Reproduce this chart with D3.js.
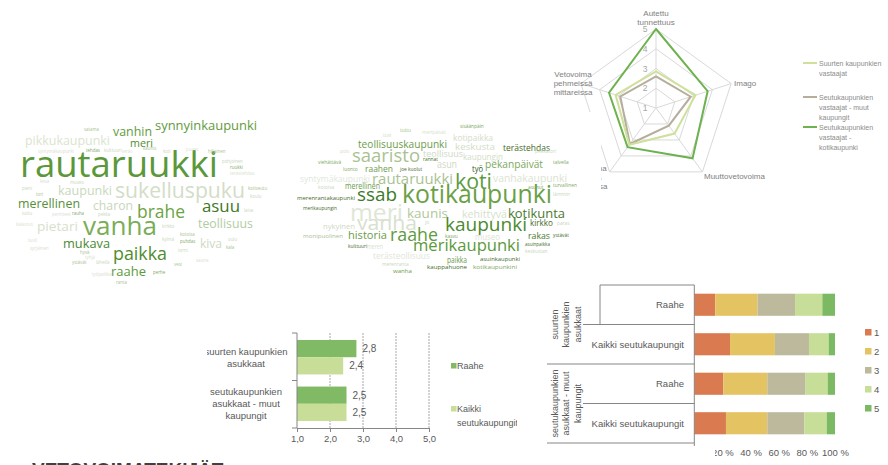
<!DOCTYPE html>
<html>
<head>
<meta charset="utf-8">
<script src="https://cdn.jsdelivr.net/npm/d3@7"></script>
<style>
body{margin:0;background:#fff;}
svg{display:block;font-family:"Liberation Sans",Arial,sans-serif;}
.cloud text{font-family:"Open Sans",sans-serif;}
</style>
</head>
<body>
<svg id="chart" width="888" height="465"></svg>
<script>
// radar
var radarAxes=["Autettu tunnettuus","Imago","Muuttovetovoima","Vetovoima kovissa mittareissa","Vetovoima pehmeissä mittareissa"];
var radarSeries=["Suurten kaupunkien vastaajat","Seutukaupunkien vastaajat - muut kaupungit","Seutukaupunkien vastaajat - kotikaupunki"];
var radarSuurten=[2.85,3.1,2.6,3.3,3.15];
var radarMuut=[2.6,2.85,2.1,3.25,2.9];
var radarKoti=[5.0,3.75,4.15,3.45,3.5];
var radarTicks=[1,2,3,4,5];

// small bar chart
var barGroups=["suurten kaupunkien asukkaat","seutukaupunkien asukkaat - muut kaupungit"];
var barSeries=["Raahe","Kaikki seutukaupungit"];
var barRaahe=[2.8,2.5];
var barKaikki=[2.4,2.5];
var barTicks=[1,2,3,4,5];

// stacked bar chart
var stackGroups=["suurten kaupunkien asukkaat","seutukaupunkien asukkaat - muut kaupungit"];
var stackCats=["Raahe","Kaikki seutukaupungit"];
var stackKeys=["1","2","3","4","5"];
var stackRaaheSuurten=[14.9,30.1,26.6,19.4,9.0];
var stackKaikkiSuurten=[25.4,31.9,24.2,14.0,4.5];
var stackRaaheMuut=[20.6,31.3,27.2,15.7,5.2];
var stackKaikkiMuut=[22.5,29.4,26.3,15.9,5.9];
var stackTicks=[0,20,40,60,80,100];

// word clouds: words and counts
var cloud1Words=["rautaruukki","sukelluspuku","vanha","paikka","brahe","asuu","raahe","teollisuus","pietari","mukava","kiva","synnyinkaupunki","vanhin","pikkukaupunki","meri","kaupunki","merellinen","charon",
 "satama","syntymäkaupunki","tehdas","kulttuuri","teräs","kaunis","koti","juuret","hiljainen","pohjoinen","ruukki","terästehdas","kotiseutu","koulu","pieni","tori","kesä","museo","tuttu","perinteet","rauha","pekka","laiva","kalastus","kirkko","kotoisa","tuuli","kylmä","puhdas","oulu","syrjäinen","kala","hyvä","torni","tyhjä","ystävät","lähellä","vesi","perhe","työpaikka","ranta","sauna"];
var cloud1Counts=[90,53,65,45,44,42,33,31,33,32,30,32,31,31,28,31,31,31,
 11,11,11,11,11,11,11,11,11,11,11,11,11,11,11,11,11,11,11,11,11,11,11,11,11,11,11,11,11,11,11,11,11,11,11,11,11,11,11,11,11,11];
var cloud2Words=["kotikaupunki","meri","koti","ssab","vanha","kaupunki","saaristo","raahe","merikaupunki","rautaruukki","kaunis","kotikunta","kehittyvä","historia","teollisuuskaupunki","pekanpäivät","vanhakaupunki","syntymäkaupunki","terästeollisuus","kotipaikka","keskusta","terästehdas","teollisuus","kaupungin","asun","työ","raahen","merellinen","nykyinen","kirkko","museo","rakas","meren","paikka","merenrantakaupunki","merikaupungin","monipuolinen","asuinpaikka","asuinkaupunki","kauppahuone","kotikaupunkini","wanha",
 "sisäänpäin","tuttu","meripäivät","tuvi","pois","pekkatori","rannat","viehättävä","talvella","luonto","joe kuolut","asunut","turvallinen","kotoisa","lämmin","paras","jo","kasvu","ystävät","kulttuuri","keskustan","merenranta"];
var cloud2Counts=[62,61,53,47,52,47,46,44,41,37,33,32,26,27,25,25,26,21,21,22,24,22,22,22,28,22,24,22,20,22,24,24,20,22,15,15,15,15,15,15,15,15,
 12,12,12,12,12,12,12,12,12,12,12,12,12,12,12,12,12,12,12,12,12,12];

// word cloud placement (x, baseline y, target width, colour)
var cloud1Layout=[[20,177,198,"#5a983a"],[115,198,130,"#d3ddc8"],[83,235,74,"#7aad58"],[113,260,54,"#4f8c2e"],[137,218,48,"#6ca444"],[202,212,38,"#3e7826"],[111,276,35,"#5b9a3a"],[198,228,55,"#b3cba3"],[37,231,41,"#d6e0cc"],[63,248,47,"#4a8a30"],[200,248,22,"#ced9c3"],[155,130,102,"#5f9b3c"],[113,136,39,"#5f9b3c"],[25,145,85,"#dbe4d0"],[130,147,23,"#4f8a2f"],[58,195,54,"#c9d8bc"],[18,208,62,"#55903a"],[93,210,40,"#c8d6bb"],
 [84,131,0,"#a9c290"],[38,153,0,"#d9e1d0"],[86,152,0,"#7fa868"],[104,152,0,"#c9d6bd"],[122,153,0,"#d9e1d0"],[143,150,0,"#a9c290"],[163,153,0,"#c9d6bd"],[186,151,0,"#d9e1d0"],[208,153,0,"#a9c290"],[222,163,0,"#c9d6bd"],[230,169,0,"#7fa868"],[230,175,0,"#d9e1d0"],[248,190,0,"#a9c290"],[250,198,0,"#c9d6bd"],[22,190,0,"#c9d6bd"],[36,196,0,"#a9c290"],[40,183,0,"#d9e1d0"],[70,184,0,"#c9d6bd"],[22,215,0,"#c9d6bd"],[52,216,0,"#d9e1d0"],[72,215,0,"#7fa868"],[98,216,0,"#c9d6bd"],[244,212,0,"#c9d6bd"],[16,226,0,"#d9e1d0"],[162,228,0,"#c9d6bd"],[180,236,0,"#a9c290"],[28,242,0,"#d9e1d0"],[162,241,0,"#c9d6bd"],[180,243,0,"#7fa868"],[228,241,0,"#c9d6bd"],[30,250,0,"#d9e1d0"],[226,249,0,"#a9c290"],[80,254,0,"#a9c290"],[178,252,0,"#c9d6bd"],[85,259,0,"#d9e1d0"],[72,264,0,"#a9c290"],[96,264,0,"#c9d6bd"],[174,266,0,"#a9c290"],[153,274,0,"#7fa868"],[92,276,0,"#d9e1d0"],[116,284,0,"#a9c290"],[196,262,0,"#d9e1d0"]];
var cloud2Layout=[[402,203,150,"#6aa046"],[350,221,53,"#dfe6d7"],[455,189,37,"#5e9a3e"],[357,201,40,"#3d7a28"],[357,230,60,"#d8e0cf"],[445,231,82,"#4b8a2e"],[352,162,68,"#a9c293"],[390,241,48,"#5e9a3e"],[413,251,107,"#5a9a3a"],[372,184,81,"#a9c293"],[407,218,41,"#b0c89a"],[508,218,57,"#4a7a30"],[462,218,45,"#d6dfcc"],[348,239,39,"#6b9c4b"],[358,148,89,"#6b9c4b"],[485,168,58,"#7aa85c"],[493,182,74,"#dbe3d2"],[300,182,70,"#e1e7da"],[373,259,57,"#dfe6d7"],[453,141,40,"#d3ddc8"],[455,150,40,"#d3ddc8"],[503,151,47,"#3f6b28"],[423,157,40,"#cfd9c4"],[463,160,40,"#d3ddc8"],[437,168,20,"#cfd9c4"],[472,172,11,"#2f5a1e"],[365,172,28,"#6b9c4b"],[345,189,35,"#6b9c4b"],[323,229,32,"#cfd9c4"],[530,226,23,"#3f6b28"],[475,240,25,"#dbe3d2"],[528,239,22,"#4a7a30"],[367,249,16,"#d6dfcc"],[447,263,20,"#6b9c4b"],[297,200,58,"#3f6b28"],[303,210,34,"#3f6b28"],[303,238,40,"#a9c293"],[525,246,25,"#3f6b28"],[480,261,40,"#3f6b28"],[427,269,40,"#3f6b28"],[473,269,44,"#7ea862"],[393,273,19,"#6b9c4b"],
 [460,128,0,"#7ea862"],[400,132,0,"#9fbf88"],[422,134,0,"#d6dfcc"],[383,137,0,"#cfd9c4"],[340,153,0,"#d6dfcc"],[535,153,0,"#c9d6bd"],[423,161,0,"#3f6b28"],[318,164,0,"#7ea862"],[553,164,0,"#7ea862"],[343,171,0,"#7ea862"],[400,171,0,"#3f6b28"],[528,189,0,"#7ea862"],[553,187,0,"#7ea862"],[318,189,0,"#c9d6bd"],[553,196,0,"#c9d6bd"],[557,225,0,"#c9d6bd"],[425,224,0,"#c9d6bd"],[445,238,0,"#7ea862"],[553,237,0,"#3f6b28"],[348,248,0,"#3f6b28"],[525,253,0,"#c9d6bd"],[382,266,0,"#c9d6bd"]];

var svg=d3.select("#chart");
svg.append("rect").attr("width",888).attr("height",465).attr("fill","#fff");

var fiFormat=d3.formatLocale({decimal:",",thousands:" ",grouping:[3],currency:["","€"]}).format(".1f");

function wrap(label,limit){
    var words=label.split(" "),lines=[],cur="";
    words.forEach(function(w){
        if(cur && (cur+" "+w).length>limit){lines.push(cur);cur=w;}
        else cur=cur?cur+" "+w:w;
    });
    lines.push(cur);
    return lines;
}

//---------- radar
var rCx=656,rCy=108;
var rScale=d3.scaleLinear().domain([1,5]).range([0,79]);
var angle=function(i){return i*2*Math.PI/radarAxes.length;};
var radial=d3.lineRadial()
    .angle(function(d,i){return angle(i);})
    .radius(function(d){return rScale(d);})
    .curve(d3.curveLinearClosed);
var radar=svg.append("g").attr("transform","translate("+rCx+","+rCy+")");

radarTicks.slice(1).forEach(function(t){
    radar.append("path")
        .attr("d",radial(radarAxes.map(function(){return t;})))
        .attr("fill","none").attr("stroke","#d9d9d9");
});
radar.selectAll("line.spoke").data(radarAxes).enter()
    .append("line").attr("class","spoke")
    .attr("x1",0).attr("y1",0)
    .attr("x2",function(d,i){return Math.sin(angle(i))*rScale(5);})
    .attr("y2",function(d,i){return -Math.cos(angle(i))*rScale(5);})
    .attr("stroke","#d9d9d9");

var radarColors=["#cfe09a","#b7ad9c","#6db24f"];
[[radarMuut,1],[radarSuurten,0],[radarKoti,2]].forEach(function(s){
    radar.append("path").attr("d",radial(s[0]))
        .attr("fill","none").attr("stroke",radarColors[s[1]]).attr("stroke-width",2);
});

radar.selectAll("text.tick").data(radarTicks).enter()
    .append("text").attr("class","tick")
    .attr("x",-11).attr("y",function(d){return -rScale(d)+3;})
    .attr("text-anchor","middle").attr("font-size",8.5).attr("fill","#a6a6a6")
    .text(function(d){return d;});

var radarLabelPos=[[656,16,"middle"],[734,86,"start"],[704,179,"start"],[588,171,"middle"],[573,77,"middle"]];
radarAxes.forEach(function(a,i){
    var p=radarLabelPos[i];
    var t=svg.append("text").attr("x",p[0]).attr("y",p[1])
        .attr("text-anchor",p[2]).attr("font-size",8).attr("fill","#808080");
    wrap(a,10).forEach(function(l,j){
        t.append("tspan").attr("x",p[0]).attr("y",p[1]+j*9).text(l);
    });
});

var radarLegendY=[63,97,127];
radarSeries.forEach(function(s,i){
    var y=radarLegendY[i];
    svg.append("line").attr("x1",803).attr("x2",817).attr("y1",y).attr("y2",y)
        .attr("stroke",radarColors[i]).attr("stroke-width",2);
    var t=svg.append("text").attr("font-size",7).attr("fill","#8c8c8c");
    wrap(s,18).forEach(function(l,j){
        t.append("tspan").attr("x",819).attr("y",y+3+j*10).text(l);
    });
});

//---------- word clouds
var fontScale=d3.scaleLinear().domain([0,100]).range([0,40]);
function drawCloud(words,counts,layout){
    var g=svg.append("g").attr("class","cloud");
    words.forEach(function(w,i){
        var p=layout[i];
        var t=g.append("text").attr("x",p[0]).attr("y",p[1])
            .attr("font-size",fontScale(counts[i]))
            .attr("fill",p[3]).text(w);
        if(p[2]>0) t.attr("textLength",p[2]).attr("lengthAdjust","spacingAndGlyphs");
    });
}
drawCloud(cloud1Words,cloud1Counts,cloud1Layout);
// second cloud picture sits on top of the radar's lower-left label
svg.append("rect").attr("x",285).attr("y",112).attr("width",316).attr("height",178).attr("fill","#fff");
drawCloud(cloud2Words,cloud2Counts,cloud2Layout);

//---------- small bar chart
svg.append("clipPath").attr("id","barClip")
    .append("rect").attr("x",207).attr("y",300).attr("width",310).attr("height",144);
var bar=svg.append("g").attr("clip-path","url(#barClip)").attr("font-size",9.5).attr("fill","#595959");
var bx=d3.scaleLinear().domain([1,5]).range([297,429]);
var by=d3.scaleBand().domain(barGroups).range([333,428]).paddingInner(0.26).paddingOuter(0.15);
var byIn=d3.scaleBand().domain(barSeries).range([0,by.bandwidth()]);
var barColors=["#80ba64","#c8de98"];

bar.selectAll("line.grid").data(barTicks.slice(1)).enter()
    .append("line").attr("class","grid")
    .attr("x1",function(d){return bx(d);}).attr("x2",function(d){return bx(d);})
    .attr("y1",333).attr("y2",428)
    .attr("stroke","#a6a6a6").attr("stroke-dasharray","2,1");

var barRows=[];
barGroups.forEach(function(g,gi){
    barRows.push({g:g,s:barSeries[0],v:barRaahe[gi],c:0});
    barRows.push({g:g,s:barSeries[1],v:barKaikki[gi],c:1});
});
bar.selectAll("rect.bar").data(barRows).enter()
    .append("rect").attr("class","bar")
    .attr("x",bx(1))
    .attr("y",function(d){return by(d.g)+byIn(d.s);})
    .attr("width",function(d){return bx(d.v)-bx(1);})
    .attr("height",byIn.bandwidth())
    .attr("fill",function(d){return barColors[d.c];});
bar.selectAll("text.val").data(barRows).enter()
    .append("text").attr("class","val")
    .attr("x",function(d){return bx(d.v)+6;})
    .attr("y",function(d){return by(d.g)+byIn(d.s)+byIn.bandwidth()/2+3.5;})
    .attr("font-size",10)
    .text(function(d){return fiFormat(d.v);});

var bAxis=bar.append("g").attr("transform","translate(0,428)")
    .call(d3.axisBottom(bx).tickValues(barTicks).tickFormat(fiFormat).tickSize(4).tickPadding(3));
bAxis.selectAll("path,line").attr("stroke","#868686");
bAxis.selectAll("text").attr("font-size",9.5).attr("fill","#595959").attr("font-family","Liberation Sans, Arial, sans-serif");
bar.append("line").attr("x1",297).attr("x2",297).attr("y1",333).attr("y2",428).attr("stroke","#868686");
var bTickY=[333,by(barGroups[1])-by.step()*by.paddingInner()/2,428];
bar.selectAll("line.ytick").data(bTickY).enter()
    .append("line").attr("class","ytick")
    .attr("x1",292).attr("x2",297).attr("y1",function(d){return d;}).attr("y2",function(d){return d;})
    .attr("stroke","#868686");
barGroups.forEach(function(g){
    var lines=wrap(g,18);
    var cy=by(g)+by.bandwidth()/2;
    lines.forEach(function(l,j){
        bar.append("text").attr("x",246).attr("y",cy+3.5+(j-(lines.length-1)/2)*12)
            .attr("text-anchor","middle").text(l);
    });
});
var barLegendY=[363,406];
barSeries.forEach(function(s,i){
    var y=barLegendY[i];
    bar.append("rect").attr("x",451).attr("y",y).attr("width",5.5).attr("height",5.5).attr("fill",barColors[i]);
    wrap(s,18).forEach(function(l,j){
        bar.append("text").attr("x",457).attr("y",y+6+j*13.5).attr("font-size",9).text(l);
    });
});

//---------- stacked bar chart
var stackValues=[stackRaaheSuurten,stackKaikkiSuurten,stackRaaheMuut,stackKaikkiMuut];
var stackColors=["#d97a50","#e4c462","#bdb99c","#c7de98","#7bba62"];
var stackRows=[];
stackGroups.forEach(function(g,gi){
    stackCats.forEach(function(c,ci){
        var row={id:gi+"-"+ci,g:g,cat:c};
        stackKeys.forEach(function(k,ki){row[k]=stackValues[gi*2+ci][ki];});
        stackRows.push(row);
    });
});
var sx=d3.scaleLinear().domain([0,100]).range([694.3,835]);
var sy=d3.scaleBand().domain(stackRows.map(function(d){return d.id;})).range([285,443]).paddingInner(0.44).paddingOuter(0.22);
var series=d3.stack().keys(stackKeys)(stackRows);
var st=svg.append("g").attr("font-size",9.5).attr("fill","#595959");

st.selectAll("g.layer").data(series).enter()
    .append("g").attr("class","layer")
    .attr("fill",function(d,i){return stackColors[i];})
    .selectAll("rect").data(function(d){return d;}).enter()
    .append("rect")
    .attr("x",function(d){return sx(d[0]);})
    .attr("y",function(d){return sy(d.data.id);})
    .attr("width",function(d){return sx(d[1])-sx(d[0]);})
    .attr("height",sy.bandwidth());

var sAxis=st.append("g").attr("transform","translate(0,443)")
    .call(d3.axisBottom(sx).tickValues(stackTicks).tickFormat(function(d){return d+" %";}).tickSize(0).tickPadding(6));
sAxis.select(".domain").remove();
sAxis.selectAll("text").attr("font-size",9.5).attr("fill","#595959").attr("font-family","Liberation Sans, Arial, sans-serif");
st.append("rect").attr("x",684).attr("y",446).attr("width",31).attr("height",16).attr("fill","#fff");
st.append("line").attr("x1",694.3).attr("x2",694.3).attr("y1",285).attr("y2",446).attr("stroke","#868686");

var bounds=stackRows.map(function(d){return sy(d.id)-sy.step()*sy.paddingInner()/2;});
bounds.push(443);
var boundStart=[600,583,547,583,547];
bounds.forEach(function(b,k){
    st.append("line").attr("x1",boundStart[k]).attr("x2",694.3).attr("y1",b).attr("y2",b)
        .attr("stroke","#868686");
});
st.append("line").attr("x1",600).attr("x2",600).attr("y1",285).attr("y2",bounds[1]).attr("stroke","#868686");

st.selectAll("text.cat").data(stackRows).enter()
    .append("text").attr("class","cat")
    .attr("x",684).attr("text-anchor","end")
    .attr("y",function(d){return sy(d.id)+sy.bandwidth()/2+3.5;})
    .text(function(d){return d.cat;});

stackGroups.forEach(function(g,gi){
    var cy=(bounds[gi*2]+bounds[gi*2+2])/2;
    var lines=wrap(g,15);
    var gt=st.append("g").attr("transform","translate(566,"+cy+") rotate(-90)");
    lines.forEach(function(l,j){
        gt.append("text").attr("x",0).attr("y",(j-(lines.length-1)/2)*11.5+3.3)
            .attr("text-anchor","middle").attr("font-size",9).text(l);
    });
});

stackKeys.forEach(function(k,i){
    var y=329+i*19;
    st.append("rect").attr("x",865).attr("y",y).attr("width",6.5).attr("height",6.5).attr("fill",stackColors[i]);
    st.append("text").attr("x",874).attr("y",y+7).text(k);
});

//---------- title, mostly below the picture edge
svg.append("text").attr("x",32).attr("y",476)
    .attr("font-size",19).attr("font-weight","bold").attr("fill","#404040")
    .text("VETOVOIMATEKIJÄT");
</script>
</body>
</html>
